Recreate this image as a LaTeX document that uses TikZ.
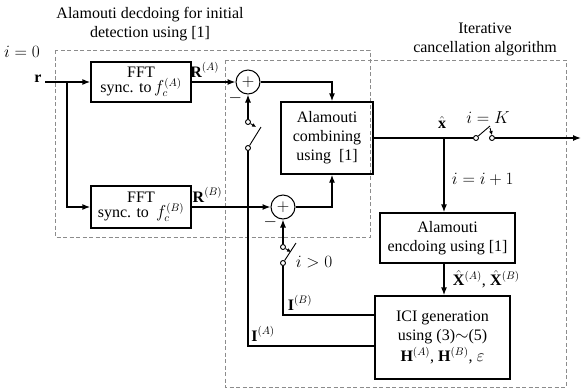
\documentclass[tikz,border=0pt]{standalone}
\usepackage{fontspec}
\setmainfont{Liberation Serif}
\usepackage{amsmath}
\usepackage{amssymb}
\usetikzlibrary{arrows.meta, positioning, calc}
\definecolor{dashgray}{HTML}{8C8C8C}

\begin{document}
\begin{tikzpicture}[x=1pt, y=-1pt, font=\fontsize{16}{19}\selectfont,
    block/.style={draw, line width=1.3pt, align=center, inner sep=2pt},
    sumnode/.style={draw, circle, line width=1pt, minimum size=24pt, inner sep=0pt},
    contact/.style={draw, circle, line width=0.9pt, minimum size=5pt, inner sep=0pt, fill=white},
    wire/.style={line width=1.3pt},
    arr/.style={wire, -{Latex[length=8pt, width=6pt]}},
    blade/.style={line width=0.9pt},
    region/.style={draw=dashgray, dash pattern=on 4pt off 2.5pt, line width=0.6pt}]

    \useasboundingbox (0,0) rectangle (582,389);

    % dashed regions and their titles
    \draw[region] (55,50) rectangle (370,237);
    \draw[region] (225,60) rectangle (566,387);
    \node[align=center] (t1) at (150,24) {Alamouti decdoing for initial\\detection using [1]};
    \node[align=center] (t2) at (485,39) {Iterative\\cancellation algorithm};
    \node (i0) at (22,52) {$i=0$};

    % blocks
    \node[block, minimum width=100pt, minimum height=40pt] (fftA) at (141,82) {FFT\\[-4pt]sync. to\,$f_c^{(A)}$};
    \node[block, minimum width=100pt, minimum height=42pt] (fftB) at (141,207) {FFT\\[-4pt]sync. to\;\,$f_c^{(B)}$};
    \node[sumnode] (sumA) at (248,82) {$+$};
    \node[sumnode] (sumB) at (283,207) {$+$};
    \node[block, minimum width=92pt, minimum height=72pt] (comb) at (327,138) {Alamouti\\combining\\using~~[1]};
    \node[block, minimum width=135pt, minimum height=50pt] (enc) at (447.5,238) {Alamouti\\encdoing using [1]};
    \node[block, minimum width=135pt, minimum height=83pt] (ici) at (442.5,337.5)
        {ICI generation\\using (3)$\sim$(5)\\[2pt]$\mathbf{H}^{(A)}$, $\mathbf{H}^{(B)}$, $\varepsilon$};

    % switch contacts
    \node[contact] (swA1) at (248,122) {};
    \node[contact] (swA2) at (248,148) {};
    \node[contact] (swB1) at (283,247) {};
    \node[contact] (swB2) at (283,263) {};
    \node[contact] (swK1) at (476,138) {};
    \node[contact] (swK2) at (492,138) {};

    \node (r) at (38,79) {$\mathbf{r}$};
    \coordinate (split) at (67,82);
    \coordinate (xsplit) at (444,138);
    \coordinate (out) at (581,138);

    % signal paths
    \draw[wire] (r.east |- split) -- (split);
    \draw[arr] (split) -- (fftA);
    \draw[arr] (split) |- (fftB);
    \draw[arr] (fftA) -- node[pos=0.3, above=1pt] {$\mathbf{R}^{(A)}$} (sumA);
    \draw[arr] (fftB) -- node[pos=0.2, above=1pt] {$\mathbf{R}^{(B)}$} (sumB);
    \draw[arr] (sumA.east) -| ([xshift=5pt]comb.north);
    \draw[arr] (sumB.east) -| ([xshift=5pt]comb.south);
    \draw[wire] (comb.east) -- (swK1);
    \draw[arr] (swK2) -- (out);
    \draw[arr] (xsplit) -- node[right=4pt, pos=0.55] {$i=i+1$} (xsplit |- enc.north);
    \draw[arr] (xsplit |- enc.south) -- node[right=5pt] {$\hat{\mathbf{X}}^{(A)}$,\;$\hat{\mathbf{X}}^{(B)}$} (xsplit |- ici.north);

    % feedback through switches
    \draw[arr] (swA1) -- node[left=2pt, pos=0.85] {$-$} (sumA);
    \draw[arr] (swB1) -- node[left=2pt, pos=0.9] {$-$} (sumB);
    \draw[wire] (swA2) |- ([yshift=-8.5pt]ici.west);
    \draw[wire] (swB2) |- ([yshift=22.5pt]ici.west);
    \node (IA) at (263,334) {$\mathbf{I}^{(A)}$};
    \node (IB) at (300,303) {$\mathbf{I}^{(B)}$};

    % switch blades
    \draw[blade] (swA2) -- ++(13,-21);
    \draw[blade, -{Latex[length=4pt, width=4pt]}] (swA1) -- ++(8,5);
    \draw[blade] (swB2) -- ++(13,-20);
    \draw[blade, -{Latex[length=4pt, width=4pt]}] (swB1) -- ++(8,5);
    \draw[blade] (swK1) -- ++(14,-12);
    \draw[blade, -{Latex[length=4pt, width=4pt]}] ([shift={(-2,-10)}]swK2.center) -- (swK2.north);

    % labels
    \node (xhat) at (442,122) {$\hat{\mathbf{x}}$};
    \node (iK) at (488,118) {$i=K$};
    \node (igt) at (314,262) {$i>0$};
\end{tikzpicture}
\end{document}
